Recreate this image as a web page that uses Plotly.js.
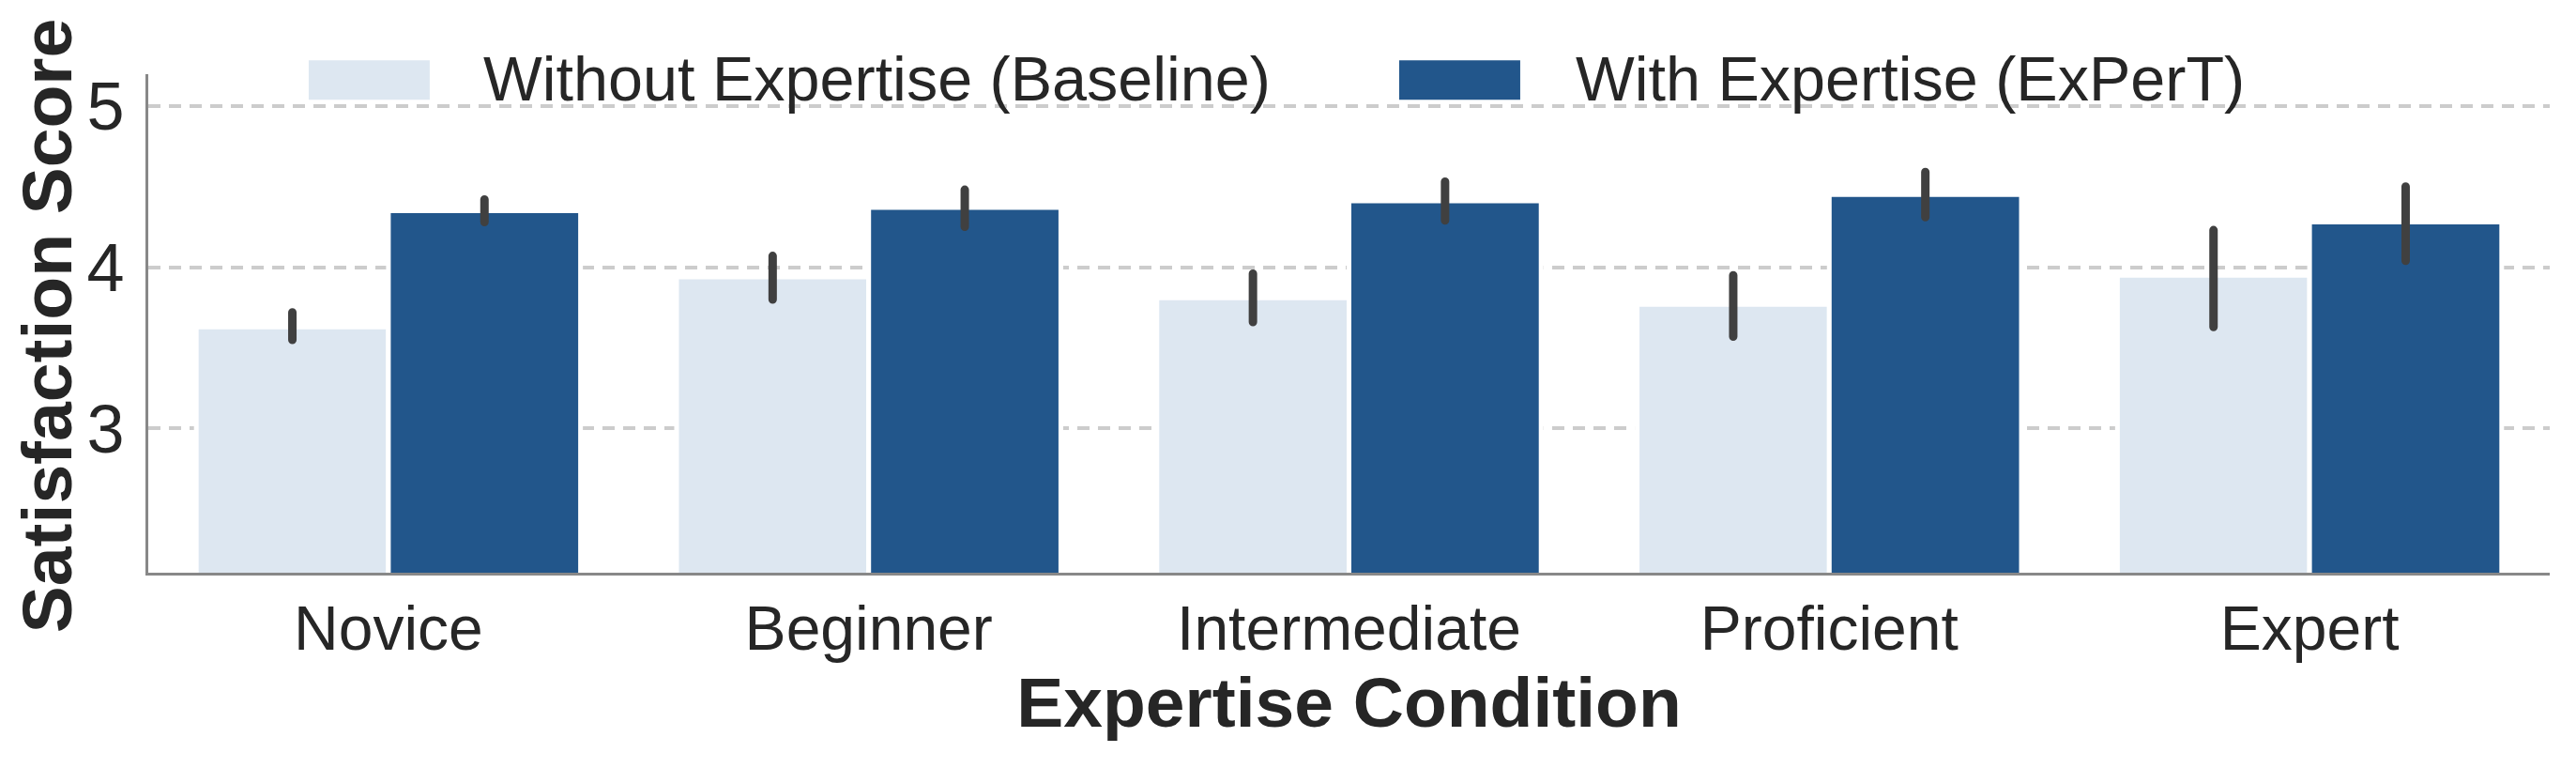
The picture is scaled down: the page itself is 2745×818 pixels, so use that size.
<!DOCTYPE html>
<html>
<head>
<meta charset="utf-8">
<script src="https://cdn.plot.ly/plotly-3.0.1.min.js"></script>
<style>
  html, body { margin: 0; padding: 0; background: #ffffff; }
  #chart { width: 2745px; height: 818px; }
  .errorbar path { stroke-linecap: round !important; }
</style>
</head>
<body>
<div id="chart"></div>
<script>
// ---- Data ----
const categories = ["Novice", "Beginner", "Intermediate", "Proficient", "Expert"];

const baselineName = "Without Expertise (Baseline)";
const baselineMean = [3.63, 3.94, 3.81, 3.77, 3.95];
const baselineCILow = [3.55, 3.80, 3.66, 3.57, 3.63];
const baselineCIHigh = [3.72, 4.07, 3.96, 3.95, 4.23];

const expertName = "With Expertise (ExPerT)";
const expertMean = [4.35, 4.37, 4.41, 4.45, 4.28];
const expertCILow = [4.28, 4.25, 4.29, 4.31, 4.04];
const expertCIHigh = [4.42, 4.48, 4.53, 4.59, 4.50];

const yTicks = [3, 4, 5];
const xTitle = "Expertise Condition";
const yTitle = "Satisfaction Score";

// ---- Styling ----
const lightBlue = "#dde7f1";
const darkBlue = "#22568b";
const textColor = "#262626";
const errColor = "#404040";
const fontFamily = "Liberation Sans, Arial, Helvetica, sans-serif";

function errPlus(mean, hi) { return mean.map((m, i) => hi[i] - m); }
function errMinus(mean, lo) { return mean.map((m, i) => m - lo[i]); }

const traces = [
  {
    type: "bar",
    name: baselineName,
    x: categories,
    y: baselineMean,
    marker: { color: lightBlue, line: { color: "#ffffff", width: 5 } },
    error_y: {
      type: "data", symmetric: false,
      array: errPlus(baselineMean, baselineCIHigh),
      arrayminus: errMinus(baselineMean, baselineCILow),
      color: errColor, thickness: 9, width: 0
    },
    showlegend: false
  },
  {
    type: "bar",
    name: expertName,
    x: categories,
    y: expertMean,
    marker: { color: darkBlue, line: { color: "#ffffff", width: 5 } },
    error_y: {
      type: "data", symmetric: false,
      array: errPlus(expertMean, expertCIHigh),
      arrayminus: errMinus(expertMean, expertCILow),
      color: errColor, thickness: 9, width: 0
    },
    showlegend: false
  }
];

const layout = {
  width: 2745,
  height: 818,
  margin: { l: 158, r: 28, t: 79, b: 208, pad: 0 },
  paper_bgcolor: "#ffffff",
  plot_bgcolor: "#ffffff",
  font: { family: fontFamily, color: textColor },
  barmode: "group",
  bargap: 0.2,
  bargroupgap: 0,
  showlegend: false,
  xaxis: {
    type: "category",
    showline: true, linecolor: "#888888", linewidth: 3,
    showgrid: false, zeroline: false,
    ticks: "", ticklabelstandoff: 0,
    tickfont: { size: 66, color: textColor, family: fontFamily },
    title: { text: xTitle, font: { size: 75, weight: "bold", color: textColor, family: fontFamily }, standoff: 5 },
    automargin: false
  },
  yaxis: {
    range: [2.107, 5.196],
    tickvals: yTicks,
    ticktext: yTicks.map(String),
    showline: true, linecolor: "#888888", linewidth: 3,
    showgrid: true, gridcolor: "#cccccc", gridwidth: 4, griddash: "13px,9px",
    zeroline: false,
    ticks: "", ticklabelstandoff: 8,
    tickfont: { size: 72, color: textColor, family: fontFamily },
    automargin: false
  },
  shapes: [
    { type: "rect", xref: "paper", yref: "paper", x0: 0.0668, x1: 0.1172, y0: 0.9486, y1: 1.0277,
      fillcolor: lightBlue, line: { width: 0 }, layer: "above" },
    { type: "rect", xref: "paper", yref: "paper", x0: 0.5209, x1: 0.5713, y0: 0.9486, y1: 1.0277,
      fillcolor: darkBlue, line: { width: 0 }, layer: "above" }
  ],
  annotations: [
    { xref: "paper", yref: "paper", x: 0.1387, y: 0.99, xanchor: "left", yanchor: "middle",
      text: baselineName, showarrow: false, font: { size: 66.5, color: textColor, family: fontFamily } },
    { xref: "paper", yref: "paper", x: 0.5936, y: 0.99, xanchor: "left", yanchor: "middle",
      text: expertName, showarrow: false, font: { size: 66.5, color: textColor, family: fontFamily } },
    { xref: "paper", yref: "paper", x: 0, y: 0.495, xanchor: "center", yanchor: "middle",
      xshift: -108, textangle: -90, borderpad: 0,
      text: yTitle, showarrow: false,
      font: { size: 75, weight: "bold", color: textColor, family: fontFamily } }
  ]
};

Plotly.newPlot("chart", traces, layout, { displayModeBar: false, staticPlot: true });
</script>
</body>
</html>
